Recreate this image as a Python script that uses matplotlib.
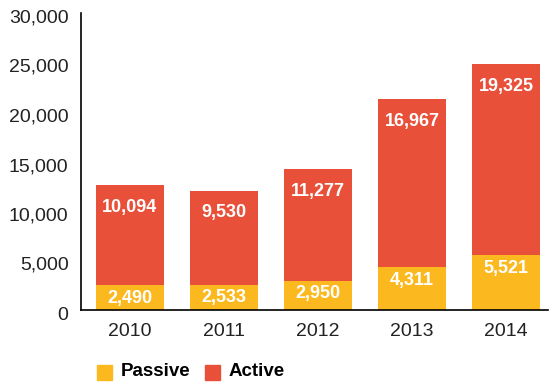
import matplotlib
matplotlib.use("Agg")
import matplotlib.pyplot as plt
import matplotlib.transforms as mtransforms
from matplotlib.patches import Rectangle

years = ["2010", "2011", "2012", "2013", "2014"]
passive = [2490, 2533, 2950, 4311, 5521]
active = [10094, 9530, 11277, 16967, 19325]

yellow = "#FBB91F"
red = "#E8503A"

plt.rcParams["font.family"] = ["Liberation Sans", "DejaVu Sans"]

fig = plt.figure(figsize=(5.5, 3.85), dpi=100)
ax = fig.add_axes([81 / 550, 1 - 310 / 385, (548 - 81) / 550, (310 - 13) / 385])

x = list(range(len(years)))
w = 0.723
ax.bar(x, passive, width=w, color=yellow, zorder=2)
ax.bar(x, active, width=w, bottom=passive, color=red, zorder=2)

for i in x:
    ax.annotate(f"{passive[i]:,}", (i, passive[i]), xytext=(0, -13),
                textcoords="offset pixels", ha="center", va="center",
                color="white", fontsize=13, fontweight="bold")
    top = passive[i] + active[i]
    ax.annotate(f"{active[i]:,}", (i, top), xytext=(0, -22),
                textcoords="offset pixels", ha="center", va="center",
                color="white", fontsize=13, fontweight="bold")

ax.set_xlim(-0.521, 4.447)
ax.set_ylim(0, 30000)
ax.set_yticks(range(0, 30001, 5000))
ax.set_yticklabels([f"{v:,}" for v in range(0, 30001, 5000)])
ax.set_xticks(x)
ax.set_xticklabels(years)
ax.tick_params(axis="both", length=0, labelsize=14, colors="#222222")
ax.tick_params(axis="y", pad=9)
ax.tick_params(axis="x", pad=9)

# nudge the value labels slightly below their tick positions
shift = mtransforms.ScaledTranslation(0, -3 / 100, fig.dpi_scale_trans)
for lab in ax.get_yticklabels():
    lab.set_transform(lab.get_transform() + shift)

for s in ("top", "right"):
    ax.spines[s].set_visible(False)
for s in ("left", "bottom"):
    ax.spines[s].set_color("black")
    ax.spines[s].set_linewidth(1.2)

# legend drawn in figure pixel coordinates
def px(xp, yp):
    return xp / 550, 1 - yp / 385

for (x0, label, col) in [(97, "Passive", yellow), (205, "Active", red)]:
    lx, ly = px(x0, 380)
    fig.patches.append(Rectangle((lx, ly), 15 / 550, 15 / 385, color=col,
                                 transform=fig.transFigure, figure=fig))
    tx, ty = px(x0 + 24, 372)
    fig.text(tx, ty, label, ha="left", va="center", fontsize=13.5,
             fontweight="bold", color="black")

fig.savefig("out.png", dpi=100)
